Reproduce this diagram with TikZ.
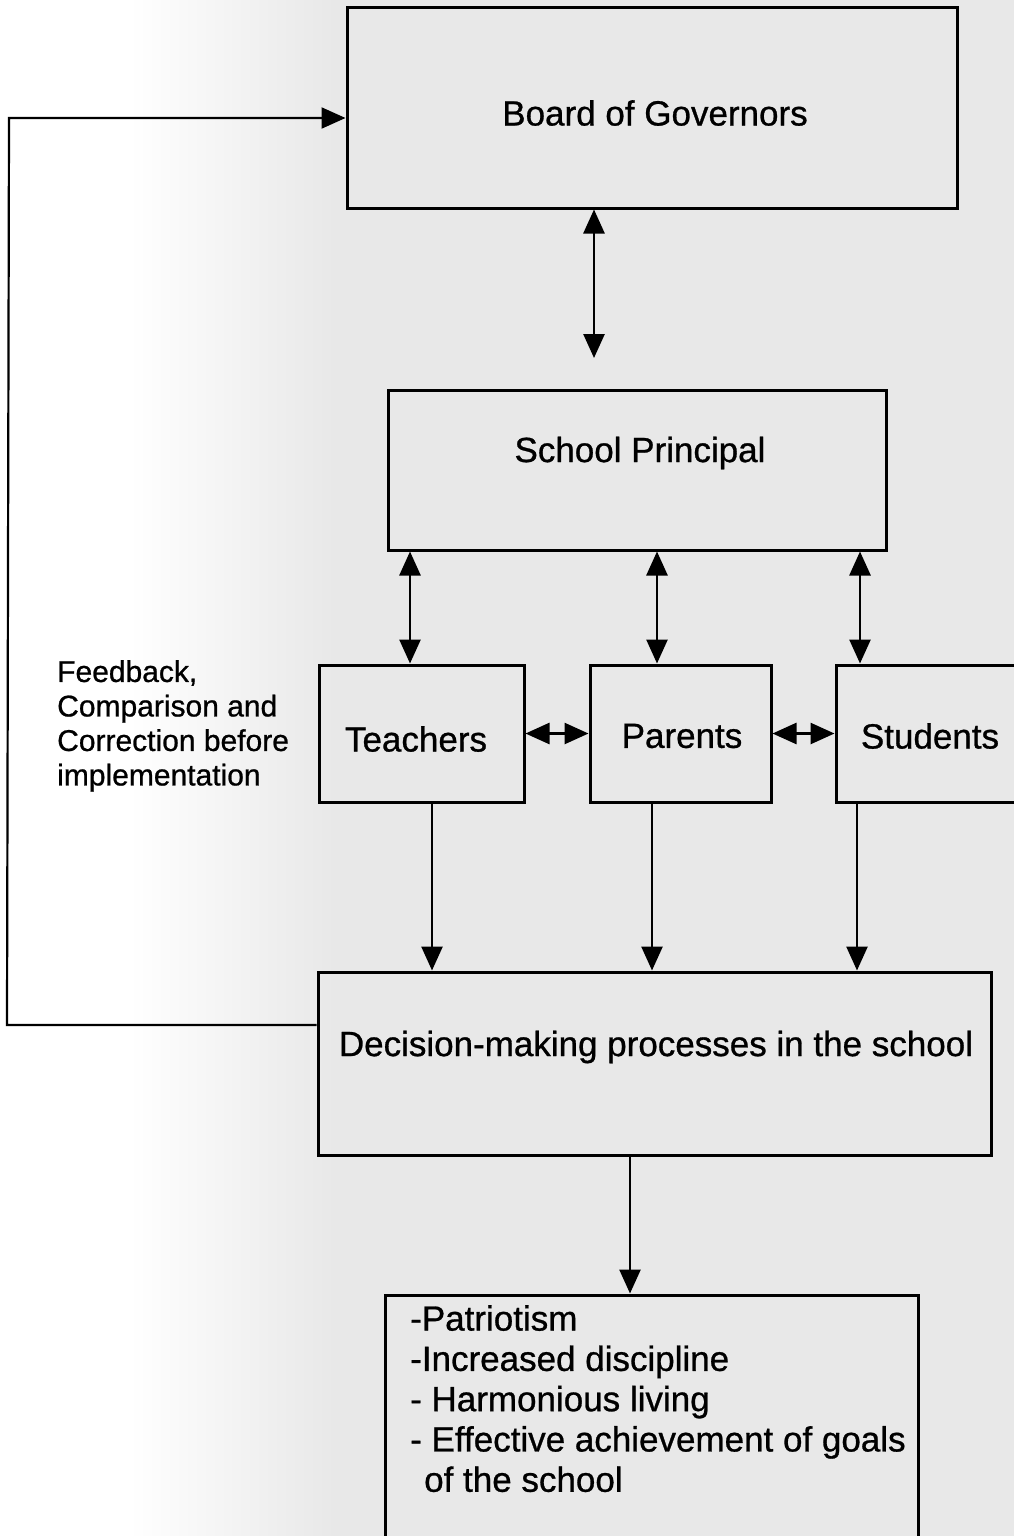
\documentclass[tikz,border=0pt]{standalone}
\usepackage{fontspec}
\setmainfont{Liberation Sans}[FakeBold=0.8]
\usetikzlibrary{arrows.meta}
\definecolor{paper}{HTML}{E8E8E8}
\tikzset{
  box/.style={draw=black, line width=3pt, rectangle, inner sep=0pt, fill=none},
  lbl/.style={font=\fontsize{35}{40.3}\selectfont, inner sep=0pt},
  conn/.style={line width=2.6pt, -{Triangle[length=24pt,width=21pt]}},
  dconn/.style={line width=2.6pt, {Triangle[length=24pt,width=21pt]}-{Triangle[length=24pt,width=21pt]}},
}
\begin{document}
\begin{tikzpicture}[x=1pt,y=-1pt]
\useasboundingbox (0,0) rectangle (1014,1536);
% paper background
\fill[paper] (0,0) rectangle (1014,1536);
\fill[white] (0,0) rectangle (130,1536);
\shade[left color=white, right color=paper] (129,0) rectangle (335,1536);

% boxes
\node[box, minimum width=610pt, minimum height=200pt] (board) at (652,108) {};
\node[lbl] (boardt) at (655,113) {Board of Governors};

\node[box, minimum width=498pt, minimum height=160pt] (principal) at (637,470) {};
\node[lbl] (principalt) at (640,453) {School Principal};

\node[box, minimum width=205pt, minimum height=137pt] (teachers) at (421.5,733.5) {};
\node[lbl] (teacherst) at (416,739) {Teachers};
\node[box, minimum width=181pt, minimum height=137pt] (parents) at (680.5,733.5) {};
\node[lbl] (parentst) at (682,736) {Parents};
\node[box, minimum width=200pt, minimum height=137pt] (students) at (936,733.5) {};
\node[lbl] (studentst) at (930,736) {Students};

\node[box, minimum width=673pt, minimum height=183pt] (decision) at (654.5,1063.5) {};
\node[lbl] (decisiont) at (656,1047) {Decision-making processes in the school};

\node[box, minimum width=533pt, minimum height=280pt] (outcome) at (651.5,1435) {};
\node[lbl, anchor=north west, align=left] (outcomet) at (410,1305)
  {-Patriotism\\-Increased discipline\\- Harmonious living\\- Effective achievement of goals\\\hspace*{0.4em}of the school};

\node[anchor=north west, align=left, inner sep=0pt, font=\fontsize{30}{34.5}\selectfont] (fbtext) at (57,660)
  {Feedback,\\Comparison and\\Correction before\\implementation};

% coordinates
\coordinate (bp) at (594,358);

% connectors
\draw[dconn] (board.south -| bp) -- (bp);
\draw[dconn] (principal.south -| 410,0) -- (teachers.north -| 410,0);
\draw[dconn] (principal.south -| 657,0) -- (parents.north -| 657,0);
\draw[dconn] (principal.south -| 860,0) -- (students.north -| 860,0);
\draw[dconn] (teachers.east) -- (parents.west);
\draw[dconn] (parents.east) -- (students.west);
\draw[conn] (teachers.south -| 432,0) -- (decision.north -| 432,0);
\draw[conn] (parents.south -| 652,0) -- (decision.north -| 652,0);
\draw[conn] (students.south -| 857,0) -- (decision.north -| 857,0);
\draw[conn] (decision.south -| 630,0) -- (outcome.north -| 630,0);
\coordinate (fbl) at (7,1025);
\coordinate (fbu) at (9,118);
\draw[conn, line width=2.2pt] (decision.west |- fbl) -- (fbl) -- (fbu) -- (board.west |- fbu);
\end{tikzpicture}
\end{document}
